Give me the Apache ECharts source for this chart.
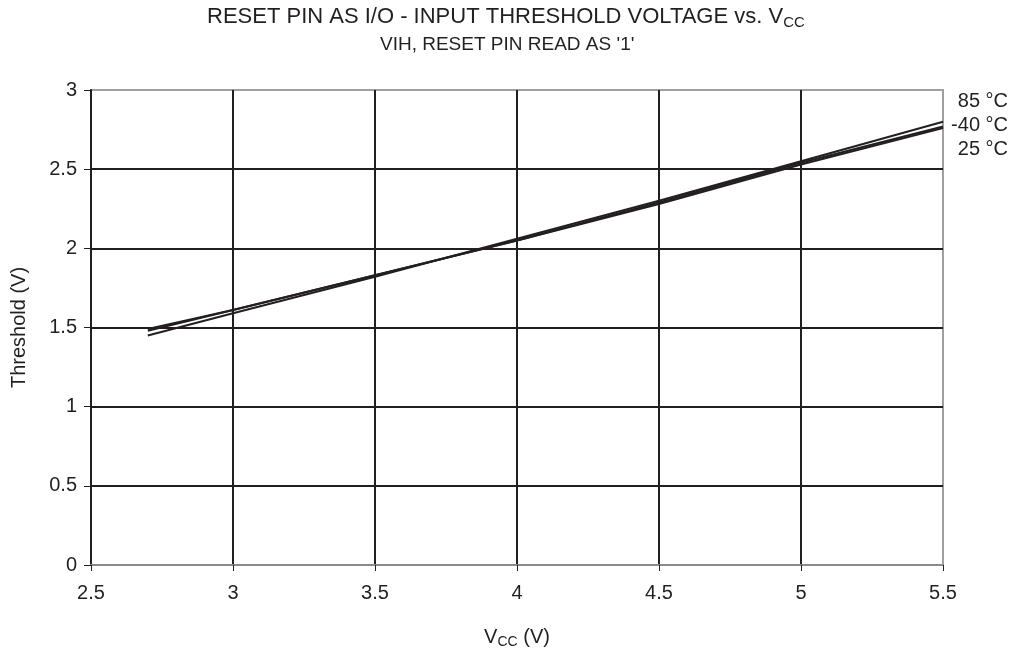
<!DOCTYPE html>
<html><head><meta charset="utf-8">
<script src="https://cdn.jsdelivr.net/npm/echarts@6/dist/echarts.min.js"></script>
<style>html,body{margin:0;padding:0;background:#fff}#c{width:1016px;height:654px}</style>
</head><body><div id="c"></div>
<script>
const vcc = [2.7, 3, 3.5, 4, 4.5, 5, 5.5];
const t85 = [1.45, 1.59, 1.82, 2.06, 2.30, 2.55, 2.80];
const tm40 = [1.49, 1.61, 1.83, 2.05, 2.29, 2.54, 2.77];
const t25 = [1.48, 1.61, 1.83, 2.05, 2.28, 2.53, 2.76];
const seriesNames = ['85 °C', '-40 °C', '25 °C'];
const xTicks = [2.5, 3, 3.5, 4, 4.5, 5, 5.5];
const yTicks = [0, 0.5, 1, 1.5, 2, 2.5, 3];

const ink = '#231f20';
const font = '"Liberation Sans", Arial, sans-serif';
const pair = (xs, ys) => xs.map((x, i) => [x, ys[i]]);
const allSeries = [t85, tm40, t25];

const chart = echarts.init(document.getElementById('c'));
chart.setOption({
  animation: false,
  backgroundColor: '#fff',
  textStyle: { fontFamily: font, color: ink },
  title: [{
    text: 'RESET PIN AS I/O - INPUT THRESHOLD VOLTAGE vs. V{s|CC}',
    left: 207, top: 3, padding: 0,
    textStyle: { fontFamily: font, fontSize: 22, fontWeight: 'normal', color: ink,
      rich: { s: { fontFamily: font, fontSize: 15, color: ink, padding: [12, 0, 0, 0] } } }
  }, {
    text: "VIH, RESET PIN READ AS '1'",
    left: 380, top: 35, padding: 0,
    textStyle: { fontFamily: font, fontSize: 19, fontWeight: 'normal', color: ink }
  }],
  grid: { left: 91, right: 73, top: 90, bottom: 89, show: true, borderColor: '#a0a0a0', borderWidth: 2 },
  xAxis: {
    type: 'value', min: xTicks[0], max: xTicks[xTicks.length - 1], interval: 0.5,
    name: 'V{s|CC} (V)', nameLocation: 'middle', nameGap: 60,
    nameTextStyle: { fontFamily: font, fontSize: 20, color: ink,
      rich: { s: { fontFamily: font, fontSize: 14, color: ink, padding: [10, 0, 0, 0] } } },
    axisLine: { show: true, lineStyle: { color: '#8a8a8a', width: 2 } },
    axisTick: { show: true, inside: false, length: 6, lineStyle: { color: ink, width: 1 } },
    axisLabel: { fontFamily: font, fontSize: 20, color: ink, margin: 18, formatter: v => String(v) },
    splitLine: { show: true, showMinLine: false, showMaxLine: false, lineStyle: { color: ink, width: 2 } }
  },
  yAxis: {
    type: 'value', min: yTicks[0], max: yTicks[yTicks.length - 1], interval: 0.5,
    name: 'Threshold (V)', nameLocation: 'middle', nameGap: 62,
    nameTextStyle: { fontFamily: font, fontSize: 20, color: ink },
    axisLine: { show: true, lineStyle: { color: ink, width: 2 } },
    axisTick: { show: true, inside: false, length: 7, lineStyle: { color: ink, width: 1 } },
    axisLabel: { fontFamily: font, fontSize: 20, color: ink, margin: 14, formatter: v => String(v) },
    splitLine: { show: true, showMinLine: false, showMaxLine: false, lineStyle: { color: ink, width: 2 } }
  },
  series: allSeries.map((ys, i) => ({
    name: seriesNames[i], type: 'line', data: pair(vcc, ys),
    showSymbol: false, symbol: 'none',
    lineStyle: { color: ink, width: 2 }, z: 5
  })),
  graphic: seriesNames.map((n, i) => ({
    type: 'text', right: 8, top: 91 + i * 24,
    style: { text: n, font: '20px ' + font, fill: ink, textAlign: 'right' }
  }))
});
</script></body></html>
